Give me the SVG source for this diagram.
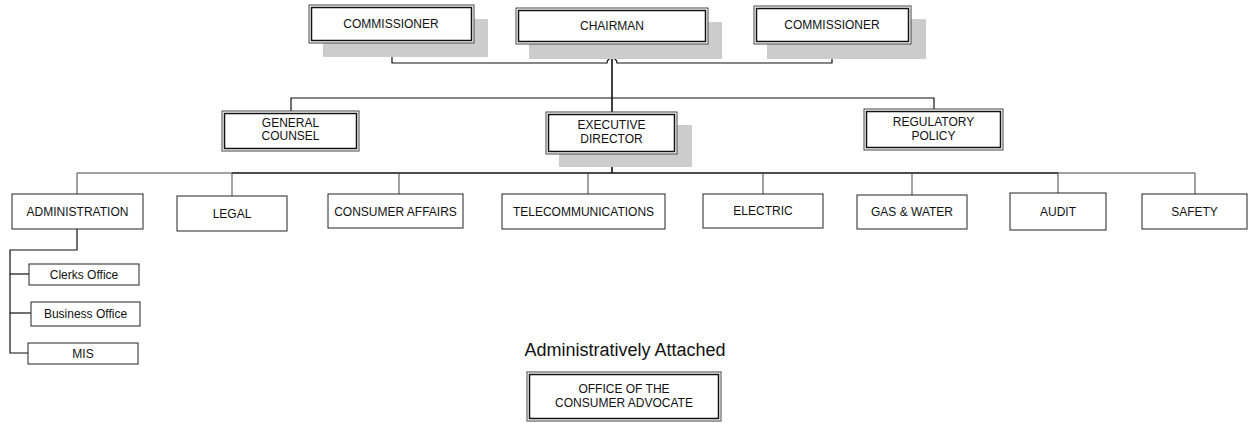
<svg xmlns="http://www.w3.org/2000/svg" width="1248" height="423" viewBox="0 0 1248 423">
<style>
.bg{fill:#fff}
.sh{fill:#cccccc}
.o{fill:#fff;stroke:#444;stroke-width:1}
.i{fill:none;stroke:#111;stroke-width:1.5}
.b{fill:#fff;stroke:#222;stroke-width:1}
.t{font-family:"Liberation Sans",Arial,sans-serif;font-size:12px;fill:#111;text-anchor:middle}
.big{font-family:"Liberation Sans",Arial,sans-serif;font-size:18px;fill:#111;text-anchor:middle}
.c{fill:none;stroke:#111;stroke-width:1.2}
.cl{fill:none;stroke:#444;stroke-width:1}
.ct{fill:none;stroke:#111;stroke-width:1.6}
</style>
<rect class="bg" x="0" y="0" width="1248" height="423"/>
<g id="connectors">
<path class="c" d="M392,43 V63 H607 A5,5 0 0 1 617,63 H832 V44"/>
<path class="ct" d="M612,44 V112"/>
<path class="c" d="M291,111 V98 H934 V109"/>
<path class="ct" d="M612,154 V173"/>
<path class="cl" d="M77,194 V173 H232"/>
<path class="ct" d="M232,173 H1058"/>
<path class="cl" d="M1058,173 H1195 V194"/>
<path class="cl" d="M232,173 V196"/>
<path class="cl" d="M399,173 V194"/>
<path class="cl" d="M588,173 V194"/>
<path class="cl" d="M763,173 V194"/>
<path class="cl" d="M912,173 V195"/>
<path class="cl" d="M1058,173 V193"/>
<path class="c" d="M77,229 V250 H10 V353 H28"/>
<path class="c" d="M10,274 H29"/>
<path class="c" d="M10,313 H31"/>
</g>
<g id="commissioner-left">
<rect class="sh" x="323" y="19" width="165" height="38"/>
<rect class="o" x="309" y="5" width="165" height="38"/>
<rect class="i" x="311.5" y="7.5" width="160" height="33"/>
<text class="t" x="391" y="28">COMMISSIONER</text>
</g>
<g id="chairman">
<rect class="sh" x="529" y="22" width="193" height="37"/>
<rect class="o" x="516" y="8" width="192" height="36"/>
<rect class="i" x="518.5" y="10.5" width="187" height="31"/>
<text class="t" x="612" y="30">CHAIRMAN</text>
</g>
<g id="commissioner-right">
<rect class="sh" x="767" y="19" width="159" height="40"/>
<rect class="o" x="754" y="6" width="157" height="38"/>
<rect class="i" x="756.5" y="8.5" width="152" height="33"/>
<text class="t" x="832" y="29">COMMISSIONER</text>
</g>
<g id="general-counsel">
<rect class="o" x="222" y="111" width="137" height="40"/>
<rect class="i" x="224.5" y="113.5" width="132" height="35"/>
<text class="t" x="290.5" y="127">GENERAL</text>
<text class="t" x="290.5" y="140">COUNSEL</text>
</g>
<g id="executive-director">
<rect class="sh" x="559" y="125" width="133" height="42"/>
<rect class="o" x="546" y="112" width="131" height="42"/>
<rect class="i" x="548.5" y="114.5" width="126" height="37"/>
<text class="t" x="611.5" y="129">EXECUTIVE</text>
<text class="t" x="611.5" y="143">DIRECTOR</text>
</g>
<g id="regulatory-policy">
<rect class="o" x="864" y="109" width="139" height="41"/>
<rect class="i" x="866.5" y="111.5" width="134" height="36"/>
<text class="t" x="933.5" y="126">REGULATORY</text>
<text class="t" x="933.5" y="140">POLICY</text>
</g>
<g id="administration">
<rect class="b" x="12" y="194" width="131" height="35"/>
<text class="t" x="77.5" y="216">ADMINISTRATION</text>
</g>
<g id="legal">
<rect class="b" x="177" y="196" width="110" height="35"/>
<text class="t" x="232" y="218">LEGAL</text>
</g>
<g id="consumer-affairs">
<rect class="b" x="328" y="194" width="135" height="34"/>
<text class="t" x="395.5" y="216">CONSUMER AFFAIRS</text>
</g>
<g id="telecommunications">
<rect class="b" x="502" y="194" width="163" height="35"/>
<text class="t" x="583.5" y="216">TELECOMMUNICATIONS</text>
</g>
<g id="electric">
<rect class="b" x="703" y="194" width="120" height="34"/>
<text class="t" x="763" y="215">ELECTRIC</text>
</g>
<g id="gas-water">
<rect class="b" x="857" y="195" width="110" height="34"/>
<text class="t" x="912" y="216">GAS &amp; WATER</text>
</g>
<g id="audit">
<rect class="b" x="1010" y="193" width="96" height="37"/>
<text class="t" x="1058" y="216">AUDIT</text>
</g>
<g id="safety">
<rect class="b" x="1142" y="194" width="105" height="35"/>
<text class="t" x="1194.5" y="216">SAFETY</text>
</g>
<g id="clerks-office">
<rect class="b" x="29" y="264" width="110" height="21"/>
<text class="t" x="84" y="279">Clerks Office</text>
</g>
<g id="business-office">
<rect class="b" x="31" y="302" width="109" height="24"/>
<text class="t" x="85.5" y="318">Business Office</text>
</g>
<g id="mis">
<rect class="b" x="28" y="343" width="110" height="21"/>
<text class="t" x="83" y="358">MIS</text>
</g>
<g id="administratively-attached">
<text class="big" x="625" y="356">Administratively Attached</text>
</g>
<g id="consumer-advocate">
<rect class="o" x="527" y="372" width="194" height="49"/>
<rect class="i" x="529.5" y="374.5" width="189" height="44"/>
<text class="t" x="624" y="393">OFFICE OF THE</text>
<text class="t" x="624" y="407">CONSUMER ADVOCATE</text>
</g>
</svg>
